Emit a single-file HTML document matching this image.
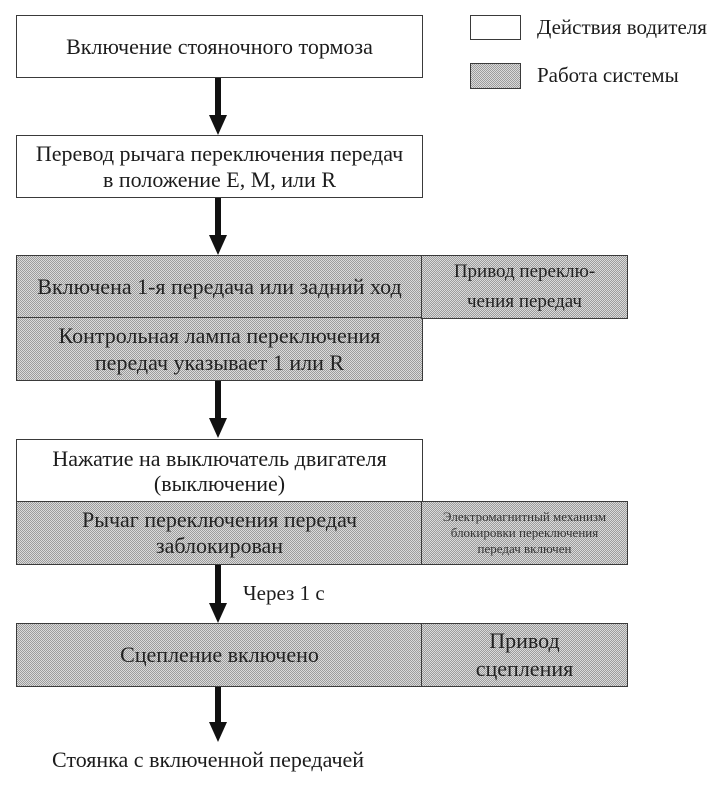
<!DOCTYPE html>
<html>
<head>
<meta charset="utf-8">
<style>
html,body{margin:0;padding:0;background:#fff;}
body{width:723px;height:785px;position:relative;overflow:hidden;font-family:"Liberation Serif","DejaVu Serif",serif;color:#1c1c1c;}
.b{position:absolute;box-sizing:border-box;border:1.5px solid #3a3a3a;display:flex;flex-direction:column;align-items:center;justify-content:center;text-align:center;font-size:22px;line-height:26px;white-space:nowrap;}
.w{background:#fff;}
.g{background-color:#bcbcbc;background-image:repeating-conic-gradient(#9c9c9c 0 25%, #dadada 0 50%);background-size:2px 2px;color:#222;}
.t{position:absolute;font-size:22px;white-space:nowrap;line-height:26px;}
</style>
</head>
<body>

<!-- legend -->
<div class="b w" style="left:470px;top:15px;width:51px;height:25px;"></div>
<div class="t" style="left:537px;top:14px;font-size:21px;">Действия водителя</div>
<div class="b g" style="left:470px;top:63px;width:51px;height:26px;"></div>
<div class="t" style="left:537px;top:62px;font-size:21px;">Работа системы</div>

<!-- box 1 -->
<div class="b w" style="left:16px;top:15px;width:407px;height:63px;">Включение стояночного тормоза</div>

<!-- box 2 -->
<div class="b w" style="left:16px;top:135px;width:407px;height:63px;"><div>Перевод рычага переключения передач</div><div>в положение E, M, или R</div></div>

<!-- gray block 1 -->
<div class="b g" style="left:16px;top:255px;width:407px;height:64px;">Включена 1-я передача или задний ход</div>
<div class="b g" style="left:16px;top:317px;width:407px;height:64px;line-height:27px;"><div>Контрольная лампа переключения</div><div>передач указывает 1 или R</div></div>
<div class="b g" style="left:421px;top:255px;width:207px;height:64px;font-size:19px;line-height:30px;"><div>Привод переклю-</div><div>чения передач</div></div>

<!-- white box 3 -->
<div class="b w" style="left:16px;top:439px;width:407px;height:64px;line-height:25px;"><div>Нажатие на выключатель двигателя</div><div>(выключение)</div></div>
<div class="b g" style="left:16px;top:501px;width:407px;height:64px;line-height:26px;"><div>Рычаг переключения передач</div><div>заблокирован</div></div>
<div class="b g" style="left:421px;top:501px;width:207px;height:64px;font-size:13px;line-height:16px;color:#333;"><div>Электромагнитный механизм</div><div>блокировки переключения</div><div>передач включен</div></div>

<!-- label -->
<div class="t" style="left:243px;top:580px;font-size:21px;">Через 1 с</div>

<!-- clutch -->
<div class="b g" style="left:16px;top:623px;width:407px;height:64px;">Сцепление включено</div>
<div class="b g" style="left:421px;top:623px;width:207px;height:64px;line-height:28px;"><div>Привод</div><div>сцепления</div></div>

<!-- final text -->
<div class="t" style="left:52px;top:747px;font-size:22px;">Стоянка с включенной передачей</div>

<!-- arrows -->
<svg width="723" height="785" style="position:absolute;left:0;top:0;" xmlns="http://www.w3.org/2000/svg">
  <g fill="#111">
    <rect x="215" y="78" width="6" height="38"/>
    <polygon points="209,115 227,115 218,135"/>
    <rect x="215" y="198" width="6" height="38"/>
    <polygon points="209,235 227,235 218,255"/>
    <rect x="215" y="381" width="6" height="38"/>
    <polygon points="209,418 227,418 218,438"/>
    <rect x="215" y="565" width="6" height="39"/>
    <polygon points="209,603 227,603 218,623"/>
    <rect x="215" y="687" width="6" height="37"/>
    <polygon points="209,722 227,722 218,742"/>
  </g>
</svg>

</body>
</html>
